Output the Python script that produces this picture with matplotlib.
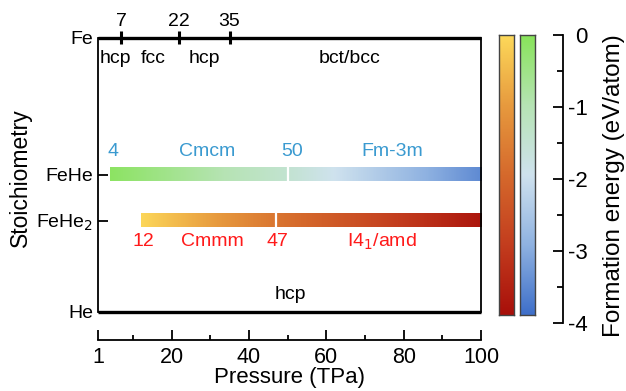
#!/usr/bin/env python3
"""Fe-He stoichiometry vs pressure phase chart with formation-energy colorbars."""

import matplotlib
matplotlib.use("Agg")
import matplotlib.pyplot as plt
from matplotlib.colors import LinearSegmentedColormap, Normalize
from matplotlib.ticker import MultipleLocator
import numpy as np

plt.rcParams["font.family"] = ["Liberation Sans", "DejaVu Sans"]

W, H = 626, 391

# Stoichiometry rows and their vertical position
ROW_LABELS = ["He", "FeHe$_2$", "FeHe", "Fe"]
ROW_Y = [0.0, 1.0, 1.5, 3.0]

# Fe phase transitions (TPa) and phase names
FE_BOUNDS = [7, 22, 35]
FE_PHASES = ["hcp", "fcc", "hcp", "bct/bcc"]
FE_PHASE_X = [5.6, 15.2, 28.6, 66.0]
HE_PHASE = "hcp"

# FeHe: phase boundaries (TPa), names and formation energy (eV/atom) at boundaries
FEHE_P = [4, 50, 100]
FEHE_PHASES = ["Cmcm", "Fm-3m"]
FEHE_E = [-0.1, -1.5, -3.6]

# FeHe2
FEHE2_P = [12, 47, 100]
FEHE2_PHASES = ["Cmmm", "I4$_1$/amd"]
FEHE2_E = [-0.05, -1.75, -3.85]

XTICKS = [1, 20, 40, 60, 80, 100]
CBAR_TICKS = [0, -1, -2, -3, -4]

BLUE_TXT = "#3a9ad0"
RED_TXT = "#ff1a1a"

cmap_red = LinearSegmentedColormap.from_list(
    "red", ["#a80f0a", "#c33d1e", "#d5692c", "#e79a3e", "#fdd95a"])
cmap_gb = LinearSegmentedColormap.from_list(
    "gb", ["#3e6fc9", "#8fb2e1", "#cfe2ee", "#b6e4b4", "#88e35a"])
norm = Normalize(-4, 0)


def draw_bar(ax, pressures, energies, y, cmap, h=0.145):
    for p0, p1, e0, e1 in zip(pressures[:-1], pressures[1:],
                              energies[:-1], energies[1:]):
        grad = np.linspace(e0, e1, 256)[None, :]
        ax.imshow(grad, extent=[p0, p1, y - h / 2, y + h / 2], aspect="auto",
                  cmap=cmap, norm=norm, interpolation="bilinear", zorder=2)
    for p in pressures[1:-1]:
        ax.plot([p, p], [y - h / 2, y + h / 2], color="white", lw=1.6,
                zorder=3)


fig = plt.figure(figsize=(W / 100, H / 100), dpi=100)
ax = fig.add_axes([98 / W, 1 - 312 / H, (481 - 98) / W, (312 - 37.5) / H])

draw_bar(ax, FEHE_P, FEHE_E, ROW_Y[2], cmap_gb)
draw_bar(ax, FEHE2_P, FEHE2_E, ROW_Y[1], cmap_red)

ax.set_xlim(1, 100)
ax.set_ylim(0, 3)

# thick lines for the pure elements
for y in (ROW_Y[0], ROW_Y[3]):
    ax.plot([1, 100], [y, y], color="black", lw=2.4, clip_on=False,
            solid_capstyle="butt", zorder=4)
for p in FE_BOUNDS:
    ax.plot([p, p], [3 - 0.075, 3 + 0.075], color="black", lw=2.2,
            clip_on=False, solid_capstyle="butt", zorder=4)
    ax.text(p, 3.17, str(p), ha="center", va="center", fontsize=14)
for name, x in zip(FE_PHASES, FE_PHASE_X):
    ax.text(x, 2.77, name, ha="center", va="center", fontsize=14)
ax.text(50.8, 0.19, HE_PHASE, ha="center", va="center", fontsize=14)

# FeHe labels (above bar)
ax.text(FEHE_P[0] + 0.8, 1.75, str(FEHE_P[0]), ha="center", va="center",
        fontsize=14, color=BLUE_TXT)
ax.text(FEHE_P[1] + 1.1, 1.75, str(FEHE_P[1]), ha="center", va="center",
        fontsize=14, color=BLUE_TXT)
ax.text(29.3, 1.75, FEHE_PHASES[0], ha="center", va="center", fontsize=14,
        color=BLUE_TXT)
ax.text(77.0, 1.75, FEHE_PHASES[1], ha="center", va="center", fontsize=14,
        color=BLUE_TXT)

# FeHe2 labels (below bar)
ax.text(FEHE2_P[0] + 0.6, 0.77, str(FEHE2_P[0]), ha="center", va="center",
        fontsize=14, color=RED_TXT)
ax.text(FEHE2_P[1] + 0.3, 0.77, str(FEHE2_P[1]), ha="center", va="center",
        fontsize=14, color=RED_TXT)
ax.text(30.6, 0.77, FEHE2_PHASES[0], ha="center", va="center", fontsize=14,
        color=RED_TXT)
ax.text(74.3, 0.77, FEHE2_PHASES[1], ha="center", va="center", fontsize=14,
        color=RED_TXT)

# spines and axes
ax.spines["top"].set_visible(False)
for s in ("left", "right"):
    ax.spines[s].set_linewidth(1.3)
ax.spines["bottom"].set_position(("outward", 20.2))
ax.spines["bottom"].set_linewidth(1.3)

ax.set_yticks(ROW_Y)
ax.set_yticklabels(ROW_LABELS, fontsize=14)
ax.tick_params(axis="y", direction="in", left=True, right=True, length=7.5,
               width=1.3, pad=3.5)

ax.set_xticks(XTICKS)
ax.xaxis.set_minor_locator(MultipleLocator(10))
ax.tick_params(axis="x", which="major", direction="in", length=7.5,
               width=1.3, labelsize=15.5, pad=5)
ax.tick_params(axis="x", which="minor", direction="in", length=3.8,
               width=1.3)
ax.set_xlabel("Pressure (TPa)", fontsize=16, labelpad=-1)
fig.text(20 / W, 1 - 178 / H, "Stoichiometry", rotation=90, ha="center",
         va="center", fontsize=16.5)

# colorbars
grad = np.linspace(0, -4, 256)[:, None]
for x0, cmap in ((499, cmap_red), (520, cmap_gb)):
    cax = fig.add_axes([x0 / W, 1 - 315 / H, 15 / W, (315 - 35) / H])
    cax.imshow(grad, extent=[0, 1, -4, 0], aspect="auto", cmap=cmap,
               norm=norm, interpolation="bilinear")
    cax.set_xticks([])
    cax.set_yticks([])
    for s in cax.spines.values():
        s.set_edgecolor("#444444")
        s.set_linewidth(1.0)

tax = fig.add_axes([553 / W, 1 - 323 / H, 10 / W, (323 - 35) / H])
tax.set_ylim(-4, 0)
for s in ("left", "top", "bottom"):
    tax.spines[s].set_visible(False)
tax.spines["right"].set_linewidth(1.3)
tax.patch.set_visible(False)
tax.set_xticks([])
tax.yaxis.tick_right()
tax.set_yticks(CBAR_TICKS)
tax.set_yticklabels([str(t) for t in CBAR_TICKS], ha="right")
tax.yaxis.set_minor_locator(MultipleLocator(0.5))
tax.tick_params(axis="y", which="major", direction="in", length=7.5,
                width=1.3, labelsize=16, pad=18)
tax.tick_params(axis="y", which="minor", direction="in", length=4, width=1.3)
fig.text(614 / W, 1 - 186 / H, "Formation energy (eV/atom)", rotation=90,
         ha="center", va="center", fontsize=17.5)

fig.savefig("out.png", dpi=100)
